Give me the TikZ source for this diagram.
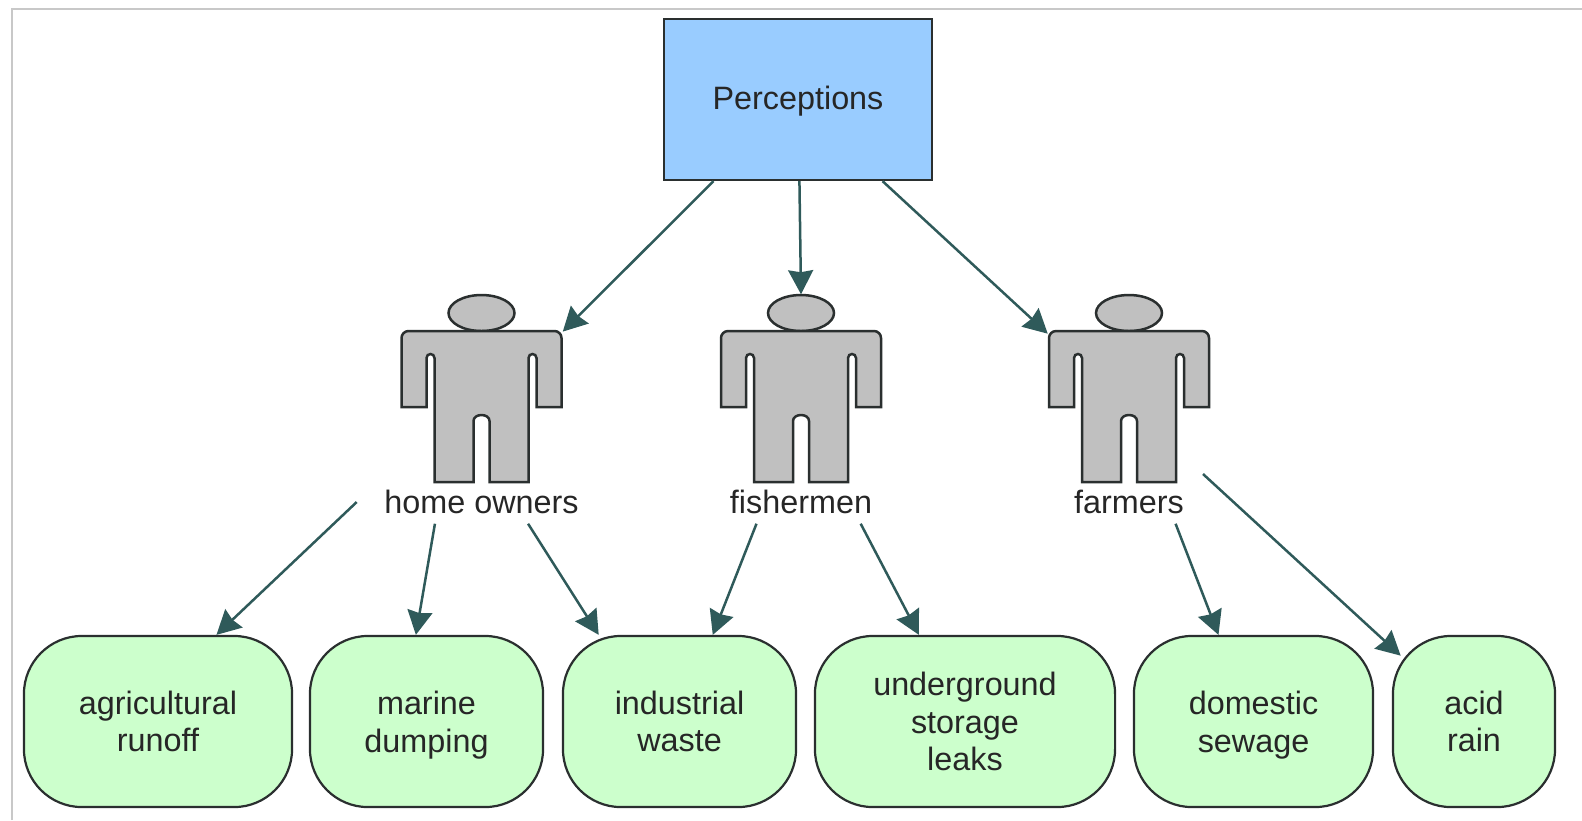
\documentclass[tikz,border=0pt]{standalone}
\usepackage{fontspec}
\setmainfont{Liberation Sans}
\usetikzlibrary{arrows.meta}

\definecolor{boxblue}{HTML}{99CCFF}
\definecolor{boxgreen}{HTML}{CCFFCC}
\definecolor{bodygray}{HTML}{C0C0C0}
\definecolor{edgedark}{HTML}{2A2F2F}
\definecolor{flowteal}{HTML}{2F5A5A}
\definecolor{framegray}{HTML}{C8C8C8}

\tikzset{
  topbox/.style={draw=edgedark,line width=.022cm,fill=boxblue,minimum width=2.68cm,minimum height=1.61cm,inner sep=0,text depth=1pt},
  leafbox/.style={draw=edgedark,line width=.022cm,fill=boxgreen,rounded corners=.58cm,minimum height=1.71cm,inner sep=0,align=center},
  figbox/.style={minimum width=1.61cm,minimum height=1.87cm,inner sep=0},
  figlabel/.style={minimum height=.42cm,inner sep=0},
  bodyline/.style={draw=edgedark,line width=.025cm,fill=bodygray},
  flow/.style={draw=flowteal,line width=.025cm,-{Stealth[length=.24cm,width=.25cm,inset=.02cm]}},
}

\begin{document}
\begin{tikzpicture}[x=.01cm,y=-.01cm,every node/.style={font=\fontsize{9.2}{10.7}\selectfont,text=black!85}]
\useasboundingbox (0,0) rectangle (1582,820);
\draw[framegray,line width=.02cm] (12,820) -- (12,9) -- (1582,9);

\node[topbox] (perceptions) at (798,99.5) {Perceptions};

% people
\foreach \name/\x/\lblw/\txt in {home/481.5/2.48/home owners,fisher/801/1.5/fishermen,farm/1129/1.1/farmers}{
  \node[figbox] (\name) at (\x,388.5) {};
  \begin{scope}[shift={(\x,331)}]
  \draw[bodyline] (0,-18) ellipse (33 and 18);
  \draw[bodyline] (-80,76) [rounded corners=.07cm] -- (-80,0) -- (80,0) [sharp corners] -- (80,76) -- (55,76)
    -- (55,27) .. controls (55,21.7) and (47,21.7) .. (47,27) -- (47,151) -- (8,151)
    -- (8,90) .. controls (8,82) and (-8,82) .. (-8,90) -- (-8,151) -- (-47,151)
    -- (-47,27) .. controls (-47,21.7) and (-55,21.7) .. (-55,27) -- (-55,76) -- cycle;
  \end{scope}
  \node[figlabel,minimum width=\lblw cm] (\name-label) at (\x,502) {\txt};
}

% sources
\node[leafbox,minimum width=2.68cm] (agri) at (158,721.5) {agricultural\\runoff};
\node[leafbox,minimum width=2.33cm] (marine) at (426.5,721.5) {\rule{0pt}{6.7pt}marine\\\smash{dumping}};
\node[leafbox,minimum width=2.33cm] (industrial) at (679.5,721.5) {industrial\\waste};
\node[leafbox,minimum width=3cm] (underground) at (965,721.5) {underground\\storage\\leaks};
\node[leafbox,minimum width=2.39cm] (domestic) at (1253.5,721.5) {domestic\\\smash{sewage}};
\node[leafbox,minimum width=1.62cm] (acid) at (1474,721.5) {acid\\rain};

\coordinate (farmtail) at (1203,474);

\draw[flow] (perceptions.-136) -- (home.35);
\draw[flow] (perceptions.-89) -- (fisher.north);
\draw[flow] (perceptions.-44) -- (farm.146);

\draw[flow] (home-label.west) -- (agri.56);
\draw[flow] (home-label.-155) -- (marine.97.7);
\draw[flow] (home-label.-25) -- (industrial.133.6);
\draw[flow] (fisher-label.-154) -- (industrial.69.2);
\draw[flow] (fisher-label.-20) -- (underground.118.3);
\draw[flow] (farm-label.-25) -- (domestic.112.8);
\draw[flow,shorten >=-.12cm] (farmtail) -- (acid.138);
\end{tikzpicture}
\end{document}
